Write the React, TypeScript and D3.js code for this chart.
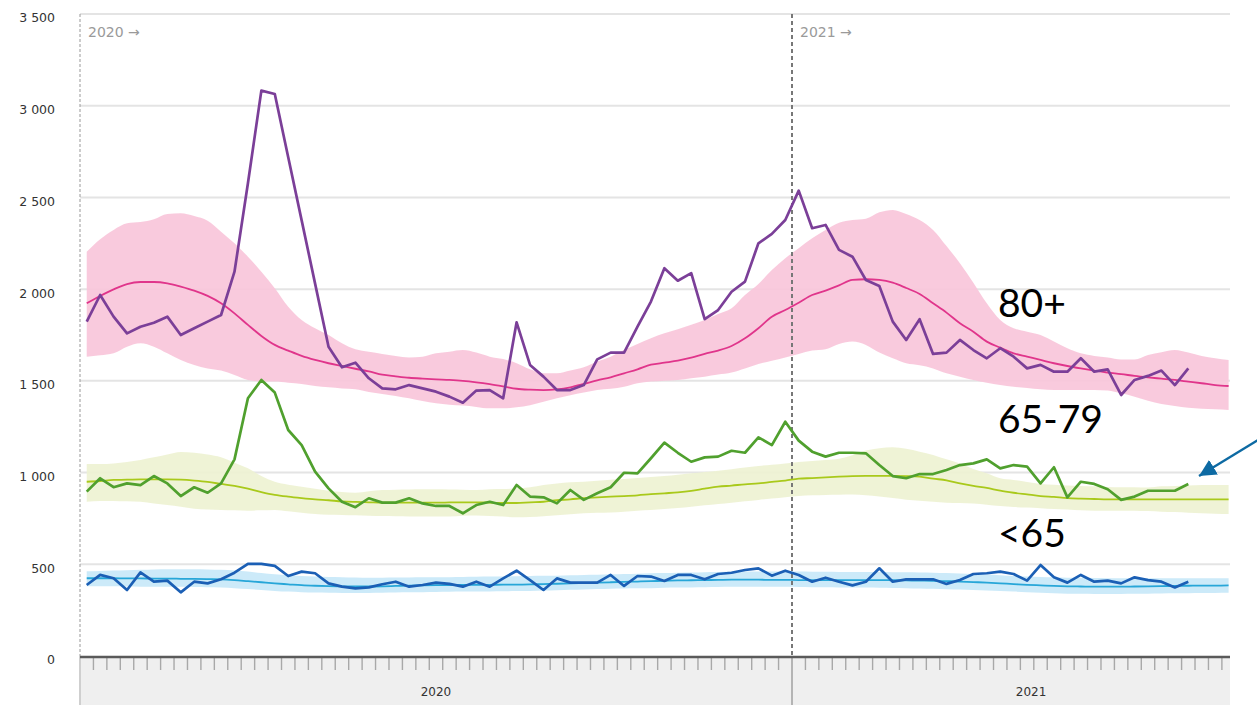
import * as d3 from "d3";
import { useEffect, useRef } from "react";

// weekly deaths, 2020 W01 .. 2021 W30 (observed) and baseline to 2021 W33
const yearLabels = ["2020", "2021"];
const weeksPerYear = [53, 33];
const yTicks = [0, 500, 1000, 1500, 2000, 2500, 3000, 3500];

const observed80 = [
    1823, 1968, 1850, 1759, 1795, 1817, 1850, 1750, 1787, 1823,
    1859, 2095, 2577, 3082, 3064, 2719, 2375, 2030, 1686, 1574,
    1599, 1514, 1459, 1454, 1477, 1459, 1441, 1414, 1381, 1447,
    1450, 1405, 1819, 1587, 1523, 1450, 1450, 1477, 1617, 1654,
    1654, 1795, 1932, 2114, 2046, 2087, 1836, 1886, 1986, 2041,
    2250, 2301, 2377, 2537, 2332, 2350, 2214, 2177, 2050, 2017,
    1823, 1723, 1836, 1647, 1654, 1723, 1668, 1623, 1678, 1632,
    1568, 1587, 1550, 1550, 1623, 1550, 1563, 1423, 1505, 1527,
    1556, 1477, 1568
];
const baseline80 = [
    1923, 1963, 1999, 2028, 2039, 2039, 2032, 2014, 1992, 1963,
    1923, 1868, 1805, 1745, 1696, 1665, 1636, 1614, 1596, 1581,
    1566, 1552, 1534, 1525, 1517, 1512, 1508, 1505, 1500, 1492,
    1482, 1470, 1457, 1452, 1450, 1454, 1465, 1483, 1503, 1519,
    1541, 1563, 1588, 1599, 1610, 1626, 1647, 1665, 1690, 1732,
    1787, 1850, 1886, 1926, 1968, 1992, 2021, 2050, 2054, 2050,
    2035, 2006, 1974, 1923, 1872, 1814, 1768, 1714, 1681, 1650,
    1632, 1614, 1596, 1581, 1568, 1556, 1545, 1537, 1527, 1519,
    1512, 1505, 1496, 1487, 1477, 1472
];
const upper80 = [
    2204, 2272, 2323, 2359, 2366, 2381, 2410, 2414, 2399, 2373,
    2313, 2250, 2177, 2095, 2005, 1904, 1832, 1787, 1750, 1705,
    1672, 1659, 1647, 1636, 1628, 1632, 1650, 1659, 1668, 1654,
    1632, 1619, 1596, 1563, 1541, 1541, 1556, 1574, 1605, 1632,
    1668, 1701, 1732, 1759, 1781, 1806, 1832, 1865, 1896, 1968,
    2028, 2104, 2168, 2223, 2277, 2323, 2362, 2377, 2384, 2419,
    2432, 2410, 2377, 2323, 2235, 2141, 2035, 1923, 1832, 1787,
    1768, 1750, 1714, 1678, 1650, 1636, 1628, 1617, 1617, 1641,
    1656, 1668, 1654, 1636, 1623, 1614
];
const lower80 = [
    1632, 1639, 1650, 1686, 1705, 1686, 1650, 1614, 1587, 1568,
    1556, 1532, 1505, 1496, 1496, 1490, 1483, 1472, 1465, 1459,
    1454, 1439, 1428, 1418, 1405, 1390, 1378, 1370, 1365, 1358,
    1350, 1350, 1356, 1367, 1386, 1405, 1421, 1436, 1450, 1457,
    1468, 1487, 1496, 1501, 1505, 1514, 1523, 1534, 1545, 1568,
    1592, 1610, 1628, 1647, 1665, 1672, 1701, 1714, 1696, 1654,
    1623, 1596, 1585, 1568, 1541, 1523, 1505, 1490, 1477, 1468,
    1461, 1454, 1450, 1450, 1450, 1450, 1447, 1432, 1414, 1392,
    1374, 1363, 1354, 1348, 1345, 1341
];

const observed65 = [
    896, 969, 920, 941, 932, 981, 941, 872, 920, 890,
    941, 1072, 1405, 1505, 1436, 1232, 1150, 1005, 914, 841,
    811, 860, 836, 836, 860, 832, 818, 818, 778, 823,
    841, 823, 932, 869, 865, 832, 905, 851, 887, 920,
    999, 996, 1078, 1163, 1108, 1059, 1083, 1087, 1119, 1108,
    1192, 1150, 1277, 1174, 1114, 1087, 1108, 1108, 1105, 1041,
    981, 969, 992, 992, 1014, 1041, 1050, 1072, 1023, 1041,
    1032, 941, 1029, 865, 950, 938, 909, 851, 869, 901,
    901, 901, 938
];
const baseline65 = [
    950, 954, 960, 961, 963, 963, 963, 961, 956, 949,
    938, 927, 912, 894, 879, 869, 861, 854, 849, 843,
    840, 838, 836, 836, 836, 836, 836, 837, 838, 838,
    836, 834, 834, 838, 841, 849, 854, 861, 865, 869,
    872, 876, 882, 887, 892, 900, 912, 923, 929, 936,
    941, 949, 956, 967, 970, 974, 978, 981, 982, 982,
    982, 981, 978, 967, 958, 941, 927, 916, 901, 890,
    881, 872, 867, 861, 858, 856, 854, 854, 854, 854,
    854, 854, 854, 854, 854, 854
];
const upper65 = [
    1047, 1047, 1050, 1058, 1069, 1083, 1098, 1112, 1108, 1098,
    1083, 1054, 1023, 981, 950, 934, 923, 912, 901, 894,
    890, 898, 905, 907, 908, 909, 909, 908, 907, 905,
    909, 910, 914, 920, 932, 941, 947, 950, 956, 961,
    965, 970, 976, 981, 988, 996, 1003, 1010, 1018, 1027,
    1036, 1043, 1050, 1058, 1063, 1069, 1076, 1095, 1120, 1132,
    1138, 1130, 1114, 1096, 1072, 1050, 1020, 996, 969, 960,
    949, 938, 934, 930, 927, 925, 921, 920, 920, 918,
    925, 927, 930, 932, 932, 932
];
const lower65 = [
    841, 845, 845, 843, 841, 832, 823, 814, 803, 798,
    796, 794, 792, 794, 796, 789, 781, 774, 770, 769,
    767, 765, 763, 762, 761, 760, 760, 760, 764, 766,
    763, 760, 756, 758, 762, 767, 773, 778, 781, 783,
    787, 792, 796, 801, 807, 814, 822, 829, 836, 843,
    851, 858, 865, 872, 876, 878, 879, 880, 876, 869,
    861, 852, 847, 841, 836, 834, 832, 825, 818, 812,
    809, 805, 801, 798, 794, 792, 792, 792, 792, 790,
    787, 785, 781, 778, 776, 774
];

const observedU65 = [
    387, 442, 424, 360, 456, 405, 411, 347, 405, 396,
    418, 454, 502, 502, 491, 436, 460, 451, 396, 378,
    369, 374, 391, 405, 378, 387, 400, 393, 378, 405,
    378, 423, 465, 414, 360, 423, 400, 400, 400, 442,
    382, 436, 433, 409, 442, 442, 418, 447, 454, 469,
    478, 438, 465, 442, 405, 427, 405, 385, 405, 478,
    405, 418, 418, 418, 393, 414, 447, 451, 460, 447,
    411, 496, 429, 400, 442, 405, 411, 396, 429, 414,
    405, 374, 405
];
const baselineU65 = [
    424, 424, 424, 423, 423, 422, 422, 421, 420, 419,
    418, 414, 408, 402, 396, 391, 386, 383, 381, 380,
    379, 379, 380, 382, 384, 385, 386, 387, 387, 388,
    388, 389, 389, 390, 392, 394, 396, 398, 400, 402,
    404, 406, 408, 410, 412, 413, 414, 415, 416, 416,
    416, 415, 415, 414, 414, 414, 414, 414, 414, 414,
    413, 412, 411, 410, 408, 406, 403, 400, 396, 392,
    388, 385, 382, 380, 379, 378, 378, 378, 379, 380,
    381, 382, 383, 384, 384, 385
];
const upperU65 = [
    462, 464, 466, 468, 470, 472, 473, 473, 473, 472,
    470, 466, 460, 452, 445, 440, 436, 433, 431, 430,
    428, 427, 427, 428, 428, 429, 430, 430, 431, 432,
    433, 434, 435, 436, 437, 438, 440, 442, 443, 445,
    447, 449, 451, 452, 454, 455, 457, 458, 459, 460,
    460, 460, 460, 460, 459, 459, 458, 458, 458, 458,
    457, 456, 455, 454, 452, 450, 447, 444, 440, 436,
    433, 431, 429, 427, 426, 425, 424, 424, 424, 424,
    424, 424, 424, 424, 424, 424
];
const lowerU65 = [
    380, 380, 380, 379, 378, 378, 378, 377, 376, 375,
    374, 370, 365, 360, 355, 351, 348, 346, 345, 344,
    344, 344, 345, 346, 347, 348, 349, 350, 351, 352,
    352, 353, 354, 355, 357, 359, 361, 363, 365, 367,
    368, 369, 370, 372, 373, 374, 375, 376, 377, 378,
    378, 378, 377, 376, 375, 375, 374, 374, 373, 372,
    371, 370, 368, 366, 364, 362, 360, 357, 354, 351,
    348, 345, 342, 340, 339, 338, 338, 338, 339, 340,
    341, 342, 342, 343, 344, 345
];

const groups = [
    { label: "80+", observed: observed80, baseline: baseline80, upper: upper80, lower: lower80,
      band: "#f8c6da", base: "#e0358b", line: "#7b3f98" },
    { label: "65-79", observed: observed65, baseline: baseline65, upper: upper65, lower: lower65,
      band: "#eef2d2", base: "#a9c91b", line: "#50a02e" },
    { label: "<65", observed: observedU65, baseline: baselineU65, upper: upperU65, lower: lowerU65,
      band: "#c8e8f8", base: "#27a6d8", line: "#1b5fb5" },
];

const width = 1257;
const height = 705;
const marginLeft = 80;
const plotRight = 1230;
const plotTop = 14;
const plotBottom = 656;

const ChartSvg = () => {
    const ref = useRef<SVGSVGElement>(null);

    useEffect(() => {
        const svg = d3.select(ref.current);
        svg.selectAll("*").remove();

        const x = d3.scaleLinear()
            .domain([0, weeksPerYear[0]])
            .range([marginLeft, 792]);
        const y = d3.scaleLinear()
            .domain([0, 3500])
            .range([plotBottom, plotTop]);
        const fmt = d3.formatLocale({ decimal: ",", thousands: " ", grouping: [3], currency: ["", ""] }).format(",d");

        // grid
        svg.append("g")
            .selectAll("line")
            .data(yTicks.slice(1))
            .join("line")
            .attr("x1", marginLeft).attr("x2", plotRight)
            .attr("y1", d => y(d)).attr("y2", d => y(d))
            .attr("stroke", "#e4e4e4").attr("stroke-width", 2);

        // y labels
        svg.append("g")
            .selectAll("text")
            .data(yTicks)
            .join("text")
            .attr("x", 55)
            .attr("y", d => y(d) + 4)
            .attr("dy", "0.35em")
            .attr("text-anchor", "end")
            .attr("font-family", "DejaVu Sans, sans-serif")
            .attr("font-size", 12.5)
            .attr("fill", "#333")
            .text(d => fmt(d));

        const cx = (_: number, i: number) => x(i + 0.5);

        // bands
        groups.forEach(g => {
            const area = d3.area<number>()
                .x(cx)
                .y0((_, i) => y(g.lower[i]))
                .y1((_, i) => y(g.upper[i]))
                .curve(d3.curveMonotoneX);
            svg.append("path")
                .attr("d", area(g.upper))
                .attr("fill", g.band)
                .attr("opacity", 0.92);
        });

        // year dividers (dashed)
        svg.append("line")
            .attr("x1", x(0)).attr("x2", x(0))
            .attr("y1", plotTop).attr("y2", plotBottom)
            .attr("stroke", "#999").attr("stroke-width", 1)
            .attr("stroke-dasharray", "3 2");
        svg.append("line")
            .attr("x1", x(weeksPerYear[0])).attr("x2", x(weeksPerYear[0]))
            .attr("y1", plotTop).attr("y2", plotBottom)
            .attr("stroke", "#777").attr("stroke-width", 2)
            .attr("stroke-dasharray", "4 3");

        // baselines
        groups.forEach(g => {
            const line = d3.line<number>()
                .x(cx)
                .y(d => y(d))
                .curve(d3.curveMonotoneX);
            svg.append("path")
                .attr("d", line(g.baseline))
                .attr("fill", "none")
                .attr("stroke", g.base)
                .attr("stroke-width", 1.8);
        });

        // observed
        groups.forEach(g => {
            const line = d3.line<number>()
                .x(cx)
                .y(d => y(d));
            svg.append("path")
                .attr("d", line(g.observed))
                .attr("fill", "none")
                .attr("stroke", g.line)
                .attr("stroke-width", 2.7)
                .attr("stroke-linejoin", "round");
        });

        // year tags at top
        svg.append("g")
            .selectAll("text")
            .data(yearLabels)
            .join("text")
            .attr("x", (_, i) => x(i * weeksPerYear[0]) + 8)
            .attr("y", 37)
            .attr("font-family", "DejaVu Sans, sans-serif")
            .attr("font-size", 14)
            .attr("fill", "#9a9a9a")
            .text(d => d + " \u2192");

        // x axis
        const axis = svg.append("g");
        axis.append("rect")
            .attr("x", marginLeft).attr("y", plotBottom)
            .attr("width", plotRight - marginLeft).attr("height", height - plotBottom)
            .attr("fill", "#efefef");
        const totalWeeks = weeksPerYear[0] + weeksPerYear[1];
        axis.selectAll("line.tick")
            .data(d3.range(1, totalWeeks))
            .join("line")
            .attr("class", "tick")
            .attr("x1", d => x(d)).attr("x2", d => x(d))
            .attr("y1", plotBottom).attr("y2", plotBottom + 14)
            .attr("stroke", "#a8a8a8").attr("stroke-width", 1.4);
        axis.selectAll("line.year")
            .data([0, weeksPerYear[0]])
            .join("line")
            .attr("class", "year")
            .attr("x1", d => x(d)).attr("x2", d => x(d))
            .attr("y1", plotBottom).attr("y2", height)
            .attr("stroke", d => d === 0 ? "#cfcfcf" : "#b4b4b4")
            .attr("stroke-width", 2);
        axis.append("line")
            .attr("x1", marginLeft).attr("x2", plotRight)
            .attr("y1", plotBottom + 1).attr("y2", plotBottom + 1)
            .attr("stroke", "#5a5a5a").attr("stroke-width", 2.5);
        const labelX = [
            (x(0) + x(weeksPerYear[0])) / 2,
            (x(weeksPerYear[0]) + x(88.6)) / 2,
        ];
        axis.selectAll("text")
            .data(yearLabels)
            .join("text")
            .attr("x", (_, i) => labelX[i])
            .attr("y", 696)
            .attr("text-anchor", "middle")
            .attr("font-family", "DejaVu Sans, sans-serif")
            .attr("font-size", 12)
            .attr("fill", "#333")
            .text(d => d);

        // group annotations
        const labelY = [317, 433, 547];
        svg.append("g")
            .selectAll("text")
            .data(groups)
            .join("text")
            .attr("x", 998)
            .attr("y", (_, i) => labelY[i])
            .attr("font-family", "Lato, sans-serif")
            .attr("font-size", 39)
            .attr("fill", "#000")
            .text(d => d.label);

        // arrow pointing at the 65-79 line
        svg.append("defs").append("marker")
            .attr("id", "arrowhead")
            .attr("viewBox", "0 0 10 10")
            .attr("refX", 10).attr("refY", 5)
            .attr("markerUnits", "userSpaceOnUse")
            .attr("markerWidth", 17).attr("markerHeight", 17)
            .attr("orient", "auto")
            .append("path")
            .attr("d", "M0,0 L10,5 L0,10 Z")
            .attr("fill", "#0d6aa3");
        svg.append("line")
            .attr("x1", 1258).attr("y1", 440)
            .attr("x2", 1199).attr("y2", 476)
            .attr("stroke", "#0d6aa3").attr("stroke-width", 2.4)
            .attr("marker-end", "url(#arrowhead)");
    }, []);

    return <svg ref={ref} width={width} height={height}
        style={{ position: "absolute", left: 0, top: 0, background: "#fff" }} />;
};

export default function App() {
    return <ChartSvg />;
}
